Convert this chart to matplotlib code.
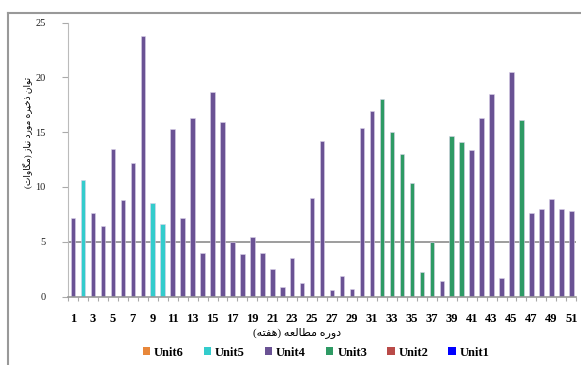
import matplotlib
matplotlib.use("Agg")
import matplotlib.pyplot as plt
import numpy as np
from matplotlib.lines import Line2D
from matplotlib.patches import Patch

# weekly required reserve (MW) and the unit that supplies it
periods = list(range(1, 52))
reserve = [7.2, 10.6, 7.6, 6.4, 13.5, 8.8, 12.2, 23.8, 8.5, 6.6,
           15.3, 7.2, 16.3, 4.0, 18.7, 15.9, 5.0, 3.9, 5.4, 4.0,
           2.5, 0.85, 3.5, 1.2, 9.0, 14.2, 0.6, 1.9, 0.7, 15.4,
           16.9, 18.0, 15.0, 13.0, 10.4, 2.2, 5.0, 1.4, 14.6, 14.1,
           13.4, 16.3, 18.5, 1.7, 20.5, 16.1, 7.6, 8.0, 8.9, 8.0, 7.8]
unit = ["Unit4"] * 51
for p in [2, 9, 10]:
    unit[p - 1] = "Unit5"
for p in [32, 33, 34, 35, 36, 37, 39, 40, 46]:
    unit[p - 1] = "Unit3"

units = ["Unit6", "Unit5", "Unit4", "Unit3", "Unit2", "Unit1"]
colors = {"Unit6": "#E8873A", "Unit5": "#33CCCC", "Unit4": "#6A5294",
          "Unit3": "#2E9A64", "Unit2": "#B94A48", "Unit1": "#0000FF"}
threshold = 5

# Persian labels written in visual (shaped, left-to-right) order
xlabel_fa = "(\uFEEA\uFE98\uFED4\uFEEB) \uFEEA\uFECC\uFEDF\uFE8E\uFEC4\uFEE3 \uFEE9\uFEAD\uFEED\uFEA9"
ylabel_fa = ("(\uFE95\uFE8D\uFEED\uFE8E\uFB95\uFEE3) \uFEAF\uFE8E\uFEF4\uFEE7 "
             "\uFEA9\uFEAD\uFEEE\uFEE3 \uFEE9\uFEAE\uFEF4\uFEA7\uFEAB \uFEE5\uFE8D\uFEEE\uFE97")

fonts = ["Liberation Serif", "DejaVu Sans"]
plt.rcParams["font.family"] = fonts

W, H = 581, 365
fig = plt.figure(figsize=(W / 100, H / 100), dpi=100)
ax = fig.add_axes([68 / W, 1 - 296.5 / H, (576.3 - 68) / W, (296.5 - 22.5) / H])

periods = np.array(periods)
reserve = np.array(reserve)
unit = np.array(unit)
for u in units:
    m = unit == u
    if m.any():
        ax.bar(periods[m], reserve[m], width=0.45, color=colors[u],
               edgecolor="#D9D0E8", linewidth=0.4, zorder=2)

ax.axhline(threshold, color="#8C8C8C", lw=1.2, zorder=1)

ax.set_xlim(0.5, 51.5)
ax.set_ylim(0, 25)
ax.set_yticks(range(0, 26, 5))
ax.set_xticks(range(1, 52, 2))
ax.set_xticks(np.arange(0.5, 52, 1), minor=True)
ax.tick_params(axis="x", which="major", length=0, pad=12, labelsize=9)
ax.tick_params(axis="x", which="minor", length=3, color="#AAAAAA", width=0.8)
ax.tick_params(axis="y", length=4, color="#AAAAAA", pad=12, labelsize=7.5,
               labelcolor="#222222")
for lab in ax.get_xticklabels():
    lab.set_fontweight("bold")

for s in ["top", "right"]:
    ax.spines[s].set_visible(False)
ax.spines["left"].set_color("#BBBBBB")
ax.spines["bottom"].set_color("#999999")
ax.spines["bottom"].set_linewidth(1.2)

fig.text(297 / W, 1 - 333 / H, xlabel_fa, ha="center", va="center",
         fontsize=8, family=fonts)
fig.text(27 / W, 1 - 132 / H, ylabel_fa, ha="center", va="center",
         rotation=90, fontsize=6.5, family=fonts)

handles = [Patch(facecolor=colors[u], label=u) for u in units]
leg = ax.legend(handles=handles, loc="center", bbox_to_anchor=(316 / W, 1 - 352.5 / H),
                bbox_transform=fig.transFigure, ncol=6, frameon=False,
                handlelength=0.6, handleheight=0.6, handletextpad=0.3,
                columnspacing=1.6, prop={"family": fonts, "weight": "bold", "size": 9})

# outer frame lines (top and left)
fig.add_artist(Line2D([8.3 / W, 1], [1 - 12.7 / H, 1 - 12.7 / H],
                      transform=fig.transFigure, color="#999999", lw=1.5))
fig.add_artist(Line2D([8.3 / W, 8.3 / W], [0, 1 - 12.7 / H],
                      transform=fig.transFigure, color="#999999", lw=1.5))

fig.savefig("out.png", dpi=100)
